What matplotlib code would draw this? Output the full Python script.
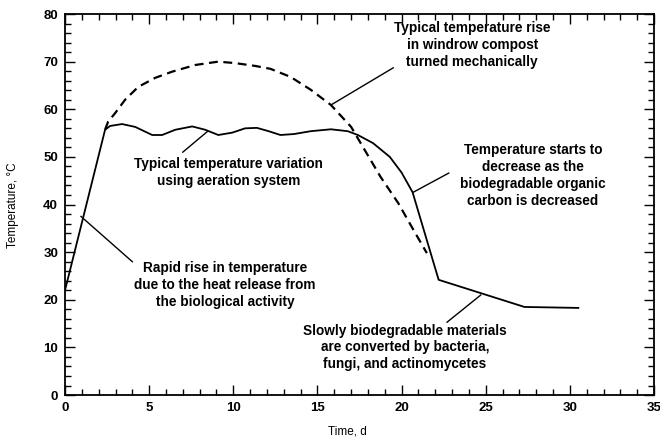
import matplotlib.pyplot as plt
from matplotlib.ticker import MultipleLocator

plt.rcParams['font.family'] = ['Liberation Sans', 'DejaVu Sans']

# aeration system (solid) - time in days, temperature in deg C
aer_day = [0.0, 2.38, 2.68, 3.39, 4.17, 5.18, 5.77, 6.55, 7.56, 8.33, 9.11,
           9.94, 10.7, 11.4, 12.1, 12.8, 13.6, 14.6, 15.8, 16.8, 17.4, 18.3,
           19.3, 20.0, 20.65, 22.2, 27.3, 30.5]
aer_temp = [22.0, 55.7, 56.5, 56.9, 56.3, 54.6, 54.6, 55.7, 56.4, 55.7, 54.6,
            55.1, 56.0, 56.1, 55.4, 54.6, 54.8, 55.4, 55.8, 55.4, 54.6, 52.9,
            50.0, 46.7, 42.6, 24.2, 18.5, 18.3]

# windrow turned mechanically (dashed)
win_day = [2.38, 2.56, 2.98, 3.57, 4.35, 5.36, 6.37, 7.74, 9.1, 10.1, 11.3,
           12.2, 13.4, 14.6, 15.8, 17.0, 17.7, 18.75, 19.8, 20.7, 21.5]
win_temp = [55.7, 57.4, 59.2, 62.0, 64.7, 66.6, 67.9, 69.3, 70.0, 69.7, 69.1,
            68.5, 66.8, 64.1, 60.9, 56.3, 52.1, 45.8, 40.3, 34.7, 29.8]

notes = [
    ("Typical temperature rise\nin windrow compost\nturned mechanically",
     (24.2, 73.5), (19.5, 68.7), (15.8, 60.9)),
    ("Typical temperature variation\nusing aeration system",
     (9.7, 46.7), (7.0, 51.0), (8.45, 55.3)),
    ("Temperature starts to\ndecrease as the\nbiodegradable organic\ncarbon is decreased",
     (27.8, 46.1), (22.8, 46.6), (20.7, 42.6)),
    ("Rapid rise in temperature\ndue to the heat release from\nthe biological activity",
     (9.5, 23.1), (4.0, 28.0), (0.95, 37.5)),
    ("Slowly biodegradable materials\nare converted by bacteria,\nfungi, and actinomycetes",
     (20.2, 10.0), (22.7, 15.3), (24.7, 21.0)),
]

fig = plt.figure(figsize=(6.6, 4.38), dpi=100)
ax = fig.add_axes([0.0985, 0.098, 0.8925, 0.870])

ax.plot(aer_day, aer_temp, color='black', lw=1.3, solid_joinstyle='round')
ax.plot(win_day, win_temp, color='black', lw=1.6, linestyle=(0, (4, 2.5)))

for txt, pos, p0, p1 in notes:
    ax.plot([p0[0], p1[0]], [p0[1], p1[1]], color='black', lw=1.0)
    ax.text(pos[0], pos[1], txt, ha='center', va='center', fontsize=9.8,
            fontweight='bold', linespacing=1.25)

ax.set_xlim(0, 35)
ax.set_ylim(0, 80)
ax.xaxis.set_major_locator(MultipleLocator(5))
ax.xaxis.set_minor_locator(MultipleLocator(1))
ax.yaxis.set_major_locator(MultipleLocator(10))
ax.yaxis.set_minor_locator(MultipleLocator(2))
ax.tick_params(which='both', direction='in', top=True, right=True, width=1.0)
ax.tick_params(which='major', length=7, labelsize=9.5, pad=5)
ax.tick_params(which='minor', length=4)
for lab in ax.get_xticklabels() + ax.get_yticklabels():
    lab.set_fontweight('bold')
for sp in ax.spines.values():
    sp.set_linewidth(1.3)

fig.text(347 / 660, 1 - 431 / 438, 'Time, d', fontsize=8.5,
         ha='center', va='center')
fig.text(13 / 660, 1 - 205 / 438, 'Temperature, \u00b0C', fontsize=8.5,
         rotation=90, ha='center', va='center')

fig.savefig('out.png', dpi=100)
